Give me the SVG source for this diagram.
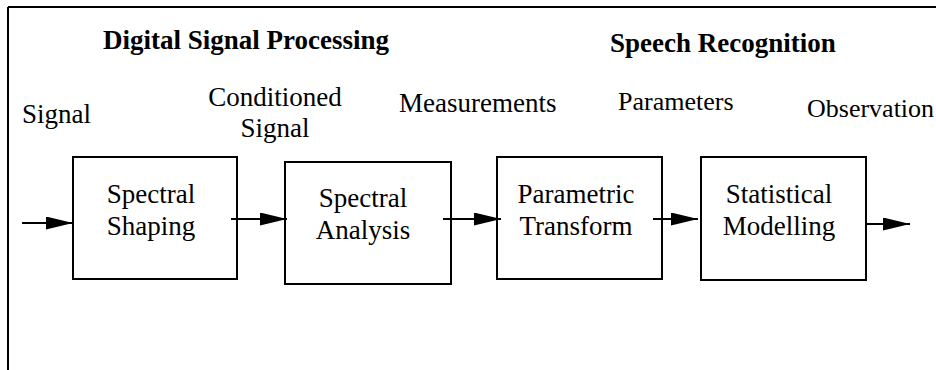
<svg xmlns="http://www.w3.org/2000/svg" width="936" height="370" viewBox="0 0 936 370">
<style>
  .box { fill: none; stroke: #000; stroke-width: 2; }
  .t { font-family: 'Liberation Serif', 'Times New Roman', Times, serif; font-size: 27px; fill: #000; }
  .b { font-weight: bold; }
  .c { text-anchor: middle; }
  .conn { stroke: #000; stroke-width: 2; fill: none; }
</style>
<defs>
  <marker id="ah" markerUnits="userSpaceOnUse" markerWidth="28" markerHeight="14" refX="27" refY="6.5" orient="auto">
    <path d="M0,0 L27,6.5 L0,13 Z" fill="#000"/>
  </marker>
</defs>
<rect width="936" height="370" fill="#fff"/>
<g id="frame">
  <line x1="8" y1="7" x2="936" y2="7" stroke="#000" stroke-width="2"/>
  <line x1="8" y1="7" x2="8" y2="370" stroke="#000" stroke-width="2"/>
</g>
<g id="titles">
  <text class="t b" x="103" y="49">Digital Signal Processing</text>
  <text class="t b" x="610" y="52">Speech Recognition</text>
</g>
<g id="labels">
  <text class="t" x="22" y="123">Signal</text>
  <text class="t c" x="275" y="106">Conditioned</text>
  <text class="t c" x="275" y="137">Signal</text>
  <text class="t" x="399" y="112">Measurements</text>
  <text class="t" x="618" y="110" style="font-size:26px">Parameters</text>
  <text class="t" x="807" y="117" style="font-size:26px">Observation</text>
</g>
<g id="connectors">
  <line class="conn" x1="22" y1="223" x2="73" y2="223" marker-end="url(#ah)"/>
  <line class="conn" x1="231" y1="219" x2="287" y2="219" marker-end="url(#ah)"/>
  <line class="conn" x1="443" y1="219" x2="501" y2="219" marker-end="url(#ah)"/>
  <line class="conn" x1="653" y1="219" x2="698" y2="219" marker-end="url(#ah)"/>
  <line class="conn" x1="866" y1="224" x2="910" y2="224" marker-end="url(#ah)"/>
</g>
<g id="spectral-shaping">
  <rect class="box" x="73" y="157" width="164" height="122"/>
  <text class="t c" x="151" y="203">Spectral</text>
  <text class="t c" x="151" y="235">Shaping</text>
</g>
<g id="spectral-analysis">
  <rect class="box" x="285" y="162" width="166" height="122"/>
  <text class="t c" x="363" y="207">Spectral</text>
  <text class="t c" x="363" y="239">Analysis</text>
</g>
<g id="parametric-transform">
  <rect class="box" x="497" y="157" width="165" height="122"/>
  <text class="t c" x="576" y="203">Parametric</text>
  <text class="t c" x="576" y="235">Transform</text>
</g>
<g id="statistical-modelling">
  <rect class="box" x="701" y="157" width="165" height="123"/>
  <text class="t c" x="779" y="203">Statistical</text>
  <text class="t c" x="779" y="235">Modelling</text>
</g>
</svg>
